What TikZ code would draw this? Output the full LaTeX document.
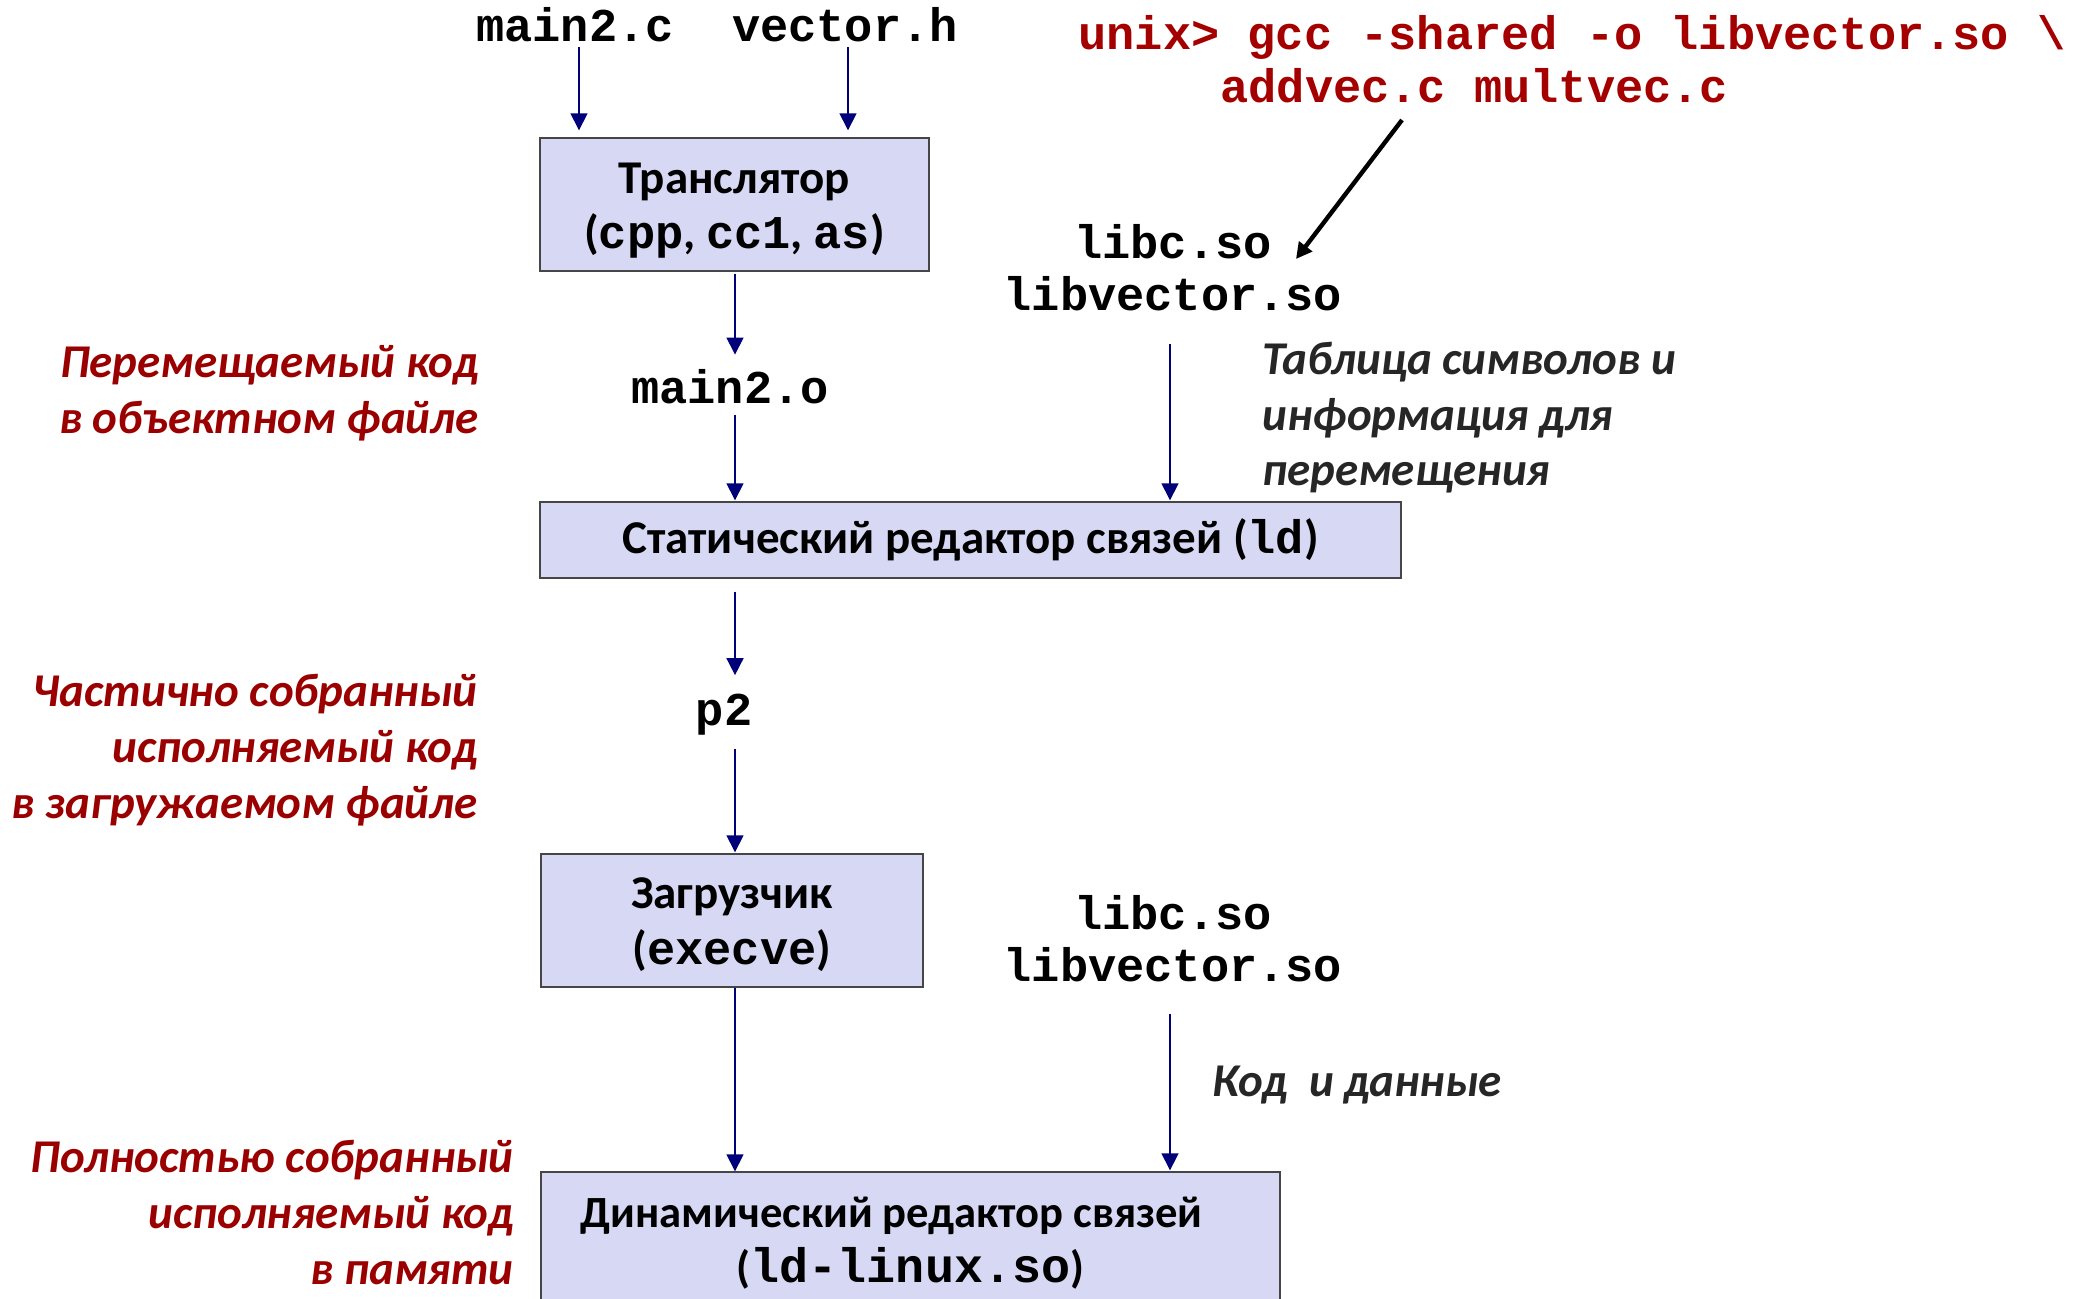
\documentclass[tikz,border=0pt]{standalone}
\usepackage{fontspec}
\setmainfont{Carlito}
\newfontfamily\monof{Liberation Mono}
\usetikzlibrary{arrows.meta}
\definecolor{navy}{RGB}{0,0,120}
\definecolor{boxfill}{RGB}{214,216,244}
\definecolor{boxline}{RGB}{70,70,70}
\definecolor{labred}{RGB}{155,0,0}
\definecolor{cmdred}{RGB}{165,0,0}
\definecolor{darklab}{RGB}{38,38,38}
\newcommand{\mtt}[1]{{\monof\bfseries #1}}
\begin{document}
\begin{tikzpicture}[x=0.5pt,y=-0.5pt,
  mono/.style={font=\monof\bfseries\fontsize{23.5}{26}\selectfont, inner sep=0pt, align=center},
  box/.style={draw=boxline, fill=boxfill, line width=0.7pt, align=center, inner sep=0pt,
    text depth=0pt, font=\bfseries\fontsize{23.5}{27.5}\selectfont},
  note/.style={font=\bfseries\itshape\fontsize{23.5}{28}\selectfont, text=labred, align=right, inner sep=0pt},
  dnote/.style={font=\bfseries\itshape\fontsize{23.5}{27.5}\selectfont, text=darklab, align=left, inner sep=0pt},
  arr/.style={draw=navy, line width=0.8pt, -{Triangle[length=8.5pt,width=8.5pt]}},
  blackarr/.style={draw=black, line width=2.2pt, -{Triangle[length=8pt,width=8pt]}}
]
\useasboundingbox (0,0) rectangle (2087,1299);
\clip (0,0) rectangle (2087,1299);

% column helpers
\coordinate (ta) at (579,0);
\coordinate (tb) at (848,0);
\coordinate (cA) at (735,0);
\coordinate (cB) at (1170,0);

% top inputs
\node[mono, anchor=base] (m2c) at (575,42) {main2.c};
\node[mono, anchor=base] (vech) at (845,42) {vector.h};
\node[mono, text=cmdred, anchor=base west] (cmd1) at (1078,50) {unix> gcc -shared -o libvector.so \textbackslash};
\node[mono, text=cmdred, anchor=base west] (cmd2) at (1220,103) {addvec.c multvec.c};

% boxes
\node[box, minimum width=194.5pt, minimum height=66.5pt, text height=44.5pt] (trans) at (734.5,204.5) {Транслятор\\(\mtt{cpp}, \mtt{cc1}, \mtt{as})};
\node[box, minimum width=430.5pt, minimum height=38pt, text height=13pt] (static) at (970.5,540) {Статический редактор связей (\mtt{ld})};
\node[box, minimum width=191pt, minimum height=66.5pt, text height=43.5pt, font=\bfseries\fontsize{23.5}{28}\selectfont] (loader) at (732,920.5) {Загрузчик\\(\mtt{execve})};
\node[box, minimum width=369.5pt, minimum height=68pt, text height=42pt, font=\bfseries\fontsize{22.3}{27.5}\selectfont] (dyn) at (910.5,1240) {Динамический редактор связей\hspace*{19pt}\\({\fontsize{24.2}{27.5}\selectfont\mtt{ld-linux.so}})};

% intermediate files
\node[mono, anchor=base] (m2o) at (730,403) {main2.o};
\node[mono, anchor=base] (p2) at (724,725) {p2};
\node[mono, anchor=base] (libs1) at (1173,311) {libc.so\\libvector.so};
\node[mono, anchor=base] (libs2) at (1173,981) {libc.so\\libvector.so};

% notes
\node[note, anchor=base east] (n1) at (479,433) {Перемещаемый код\\в объектном файле};
\node[note, anchor=base east] (n2) at (478,818) {Частично собранный\\исполняемый код\\в загружаемом файле};
\node[note, anchor=base east] (n3) at (514,1284) {Полностью собранный\\исполняемый код\\в памяти};
\node[dnote, anchor=base west] (tab) at (1262,485) {Таблица символов и\\информация для\\перемещения};
\node[dnote, anchor=base west] (kod) at (1212,1096) {Код~ и данные};

% connectors
\draw[arr, shorten <=2pt, shorten >=3.5pt] (ta |- m2c.south) -- (ta |- trans.north);
\draw[arr, shorten <=2pt, shorten >=3.5pt] (tb |- vech.south) -- (tb |- trans.north);
\draw[arr, shorten <=1pt, shorten >=7pt] (cA |- trans.south) -- (cA |- m2o.north);
\draw[arr, shorten <=5.5pt, shorten >=0.5pt] (cA |- m2o.south) -- (cA |- static.north);
\draw[arr, shorten <=16pt, shorten >=0.5pt] (cB |- libs1.south) -- (cB |- static.north);
\draw[arr, shorten <=6.5pt, shorten >=9pt] (cA |- static.south) -- (cA |- p2.north);
\draw[arr, shorten <=7pt, shorten >=0.5pt] (cA |- p2.south) -- (cA |- loader.north);
\draw[arr, shorten <=16pt, shorten >=0.5pt] (cB |- libs2.south) -- (cB |- dyn.north);
\draw[arr] (cA |- loader.south) -- (cA |- dyn.north);

\coordinate (bs) at (1402,120);
\coordinate (be) at (1296,259);
\draw[blackarr] (bs) -- (be);
\end{tikzpicture}
\end{document}
